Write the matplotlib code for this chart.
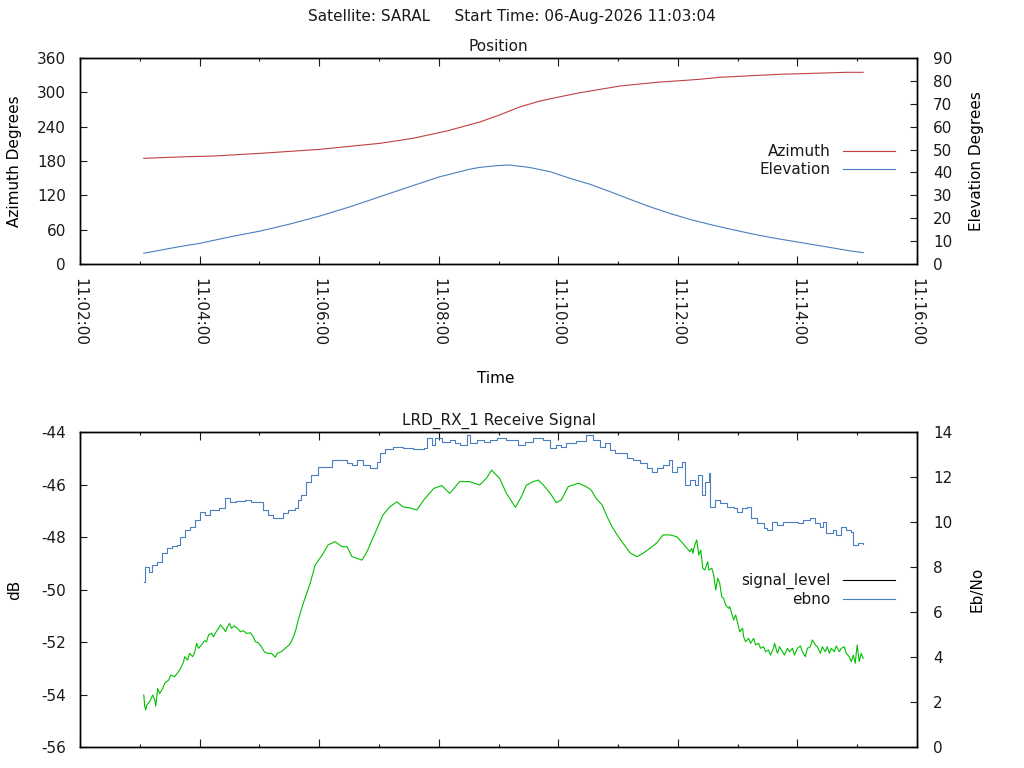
import matplotlib.pyplot as plt
from matplotlib.lines import Line2D
from matplotlib.ticker import MultipleLocator, FuncFormatter

plt.rcParams['font.family'] = 'DejaVu Sans'
plt.rcParams['font.size'] = 11
plt.rcParams['axes.unicode_minus'] = False
plt.rcParams['text.color'] = '#1a1a1a'
plt.rcParams['xtick.color'] = '#1a1a1a'
plt.rcParams['ytick.color'] = '#1a1a1a'

# times are seconds after 11:02:00
az_t = [64, 107, 134, 181, 241, 301, 334, 368, 401, 421, 442, 462, 482, 502, 522,
        542, 562, 582, 602, 622, 642, 669, 702, 736, 769, 786]
azimuth = [184.7, 187.5, 188.7, 193.4, 200.4, 210.9, 219.6, 232.4, 248.0, 260.4, 274.9,
           284.9, 292.4, 299.4, 305.2, 311.1, 314.6, 318.0, 320.3, 322.8, 326.3, 328.6,
           331.5, 333.2, 335.0, 335.0]

el_t = [64, 100, 120, 151, 181, 211, 241, 271, 301, 331, 361, 391, 401, 419, 431, 451,
        472, 492, 512, 532, 552, 572, 592, 612, 632, 652, 672, 692, 712, 732, 752, 772,
        786]
elevation = [4.7, 7.6, 9.0, 11.9, 14.4, 17.5, 21.0, 25.0, 29.4, 33.8, 38.1, 41.4, 42.2,
             43.0, 43.25, 42.2, 40.3, 37.4, 34.8, 31.6, 28.25, 25.0, 22.1, 19.5, 17.3,
             15.3, 13.4, 11.66, 10.2, 8.74, 7.28, 5.8, 4.94]

sig_t = [64, 65, 66, 67, 70, 73, 75, 76, 78, 80, 83, 85, 89, 91, 95, 98, 101, 104, 105,
         108, 110, 113, 115, 117, 119, 122, 125, 127, 129, 132, 134, 136, 139, 141, 144,
         146, 148, 150, 152, 155, 158, 161, 164, 167, 171, 174, 176, 179, 182, 185, 188,
         192, 196, 198, 202, 206, 210, 212, 215, 217, 219, 221, 224, 231, 236, 243, 249,
         256, 263, 268, 273, 283, 288, 296, 304, 311, 318, 324, 331, 338, 345, 355, 363,
         371, 381, 391, 401, 408, 413, 421, 428, 437, 443, 448, 455, 460, 465, 472, 478,
         483, 490, 500, 508, 513, 518, 524, 529, 534, 539, 545, 552, 559, 565, 572, 579,
         585, 592, 599, 605, 612, 614, 615, 617, 619, 621, 623, 625, 627, 630, 631, 634,
         636, 638, 640, 642, 644, 646, 648, 651, 652, 654, 656, 658, 661, 662, 665, 666,
         668, 671, 673, 676, 678, 681, 683, 686, 688, 691, 693, 696, 697, 700, 702, 705,
         707, 710, 712, 715, 717, 720, 723, 725, 728, 730, 733, 735, 738, 740, 743, 745,
         748, 750, 752, 754, 757, 759, 762, 764, 767, 769, 772, 774, 776, 778, 779, 780,
         782, 784, 786]
signal_level = [-54.02, -54.46, -54.59, -54.40, -54.27, -54.02, -54.21, -54.44, -53.77,
                -53.96, -53.77, -53.57, -53.45, -53.26, -53.32, -53.17, -53.00, -52.75,
                -52.56, -52.69, -52.43, -52.56, -52.41, -52.05, -52.24, -52.11, -51.95,
                -51.99, -51.73, -51.67, -51.80, -51.65, -51.48, -51.35, -51.48, -51.61,
                -51.42, -51.29, -51.48, -51.39, -51.48, -51.61, -51.57, -51.67, -51.65,
                -51.80, -51.99, -52.03, -52.18, -52.37, -52.43, -52.43, -52.58, -52.43,
                -52.37, -52.24, -52.11, -51.99, -51.73, -51.48, -51.16, -50.91, -50.53,
                -49.76, -49.07, -48.69, -48.30, -48.18, -48.37, -48.37, -48.75, -48.88,
                -48.56, -47.86, -47.16, -46.85, -46.66, -46.85, -46.89, -46.97, -46.59,
                -46.15, -46.04, -46.34, -45.89, -45.89, -46.02, -45.76, -45.45, -45.76,
                -46.34, -46.87, -46.46, -46.02, -45.89, -45.83, -46.02, -46.34, -46.69,
                -46.59, -46.08, -45.95, -46.08, -46.21, -46.53, -46.78, -47.23, -47.61,
                -47.92, -48.24, -48.60, -48.75, -48.62, -48.43, -48.22, -47.92, -47.92,
                -47.99, -48.24, -48.56, -48.43, -48.62, -48.30, -48.11, -48.69, -48.50,
                -49.19, -49.26, -48.94, -49.26, -49.19, -49.45, -50.02, -49.57, -49.76,
                -50.27, -50.34, -50.59, -50.72, -50.65, -50.91, -51.16, -50.97, -51.42,
                -51.61, -51.48, -51.80, -51.99, -51.86, -52.05, -51.86, -52.11, -52.05,
                -52.24, -52.18, -52.37, -52.30, -52.50, -52.24, -52.05, -52.43, -52.18,
                -52.37, -52.50, -52.24, -52.37, -52.24, -52.50, -52.24, -52.15, -52.37,
                -52.56, -52.24, -52.18, -51.92, -52.11, -52.18, -52.43, -52.18, -52.37,
                -52.18, -52.43, -52.24, -52.37, -52.15, -52.37, -52.24, -52.18, -52.43,
                -52.56, -52.75, -52.50, -52.81, -52.43, -52.11, -52.75, -52.43, -52.62]

ebno_t = [64, 65, 69, 72, 77, 82, 87, 92, 97, 100, 105, 110, 115, 120, 125, 130, 139,
          146, 151, 157, 166, 172, 181, 184, 189, 194, 201, 204, 209, 216, 219, 222, 227,
          232, 239, 246, 253, 261, 268, 273, 278, 284, 291, 298, 301, 306, 314, 324, 334,
          345, 348, 353, 356, 363, 371, 376, 381, 388, 391, 398, 405, 411, 418, 428, 440,
          447, 455, 465, 472, 478, 483, 488, 498, 508, 515, 522, 527, 532, 537, 545, 549,
          555, 562, 569, 574, 579, 585, 591, 594, 599, 604, 607, 612, 617, 620, 624, 627,
          631, 632, 637, 642, 649, 656, 659, 664, 669, 673, 679, 686, 689, 694, 699, 706,
          716, 721, 726, 733, 738, 743, 746, 749, 756, 759, 764, 769, 774, 776, 781, 786]
ebno = [7.35, 8.01, 7.79, 8.09, 8.24, 8.61, 8.83, 8.93, 8.98, 9.35, 9.64, 9.79, 10.09,
        10.46, 10.31, 10.53, 10.61, 11.08, 10.90, 10.95, 10.98, 10.90, 10.90, 10.53, 10.31,
        10.16, 10.16, 10.39, 10.53, 10.61, 10.98, 11.20, 11.79, 12.09, 12.46, 12.46, 12.76,
        12.76, 12.61, 12.53, 12.76, 12.53, 12.39, 12.68, 13.05, 13.23, 13.35, 13.27, 13.23,
        13.27, 13.72, 13.42, 13.72, 13.57, 13.64, 13.50, 13.42, 13.87, 13.50, 13.64, 13.57,
        13.64, 13.72, 13.64, 13.42, 13.57, 13.72, 13.64, 13.27, 13.42, 13.35, 13.50, 13.61,
        13.87, 13.64, 13.35, 13.50, 13.20, 13.05, 13.05, 12.83, 12.76, 12.61, 12.39, 12.24,
        12.39, 12.53, 12.76, 12.24, 12.46, 12.68, 11.64, 11.86, 11.64, 12.09, 11.20, 11.79,
        12.16, 10.68, 10.98, 10.83, 10.68, 10.61, 10.46, 10.61, 10.68, 10.16, 9.94, 9.72,
        9.64, 10.01, 9.87, 10.01, 10.01, 9.94, 10.09, 10.16, 9.94, 9.79, 10.01, 9.50, 9.64,
        9.42, 9.79, 9.64, 9.57, 8.98, 9.05, 9.02]

RED = '#c04040'
BLUE = '#4a7fbf'
GREEN = '#00c000'
LW = 0.8


def hms(s, pos=None):
    s = int(round(s)) + 11 * 3600 + 2 * 60
    return '%02d:%02d:%02d' % (s // 3600, s // 60 % 60, s % 60)


def style_x(ax, labels=True):
    ax.set_xlim(0, 840)
    ax.xaxis.set_major_locator(MultipleLocator(120))
    ax.xaxis.set_minor_locator(MultipleLocator(60))
    ax.xaxis.set_major_formatter(FuncFormatter(hms))
    ax.tick_params(axis='x', which='both', direction='in', top=True, bottom=True,
                   labelbottom=labels, labelrotation=-90, pad=10)
    ax.tick_params(axis='x', which='major', length=5.5, width=0.8)
    ax.tick_params(axis='x', which='minor', length=2.5, width=0.8)


def style_y(ax, side):
    if side == 'left':
        ax.tick_params(axis='y', direction='in', left=True, right=False, length=5,
                       width=0.8, pad=10)
    else:
        ax.tick_params(axis='y', direction='in', left=False, right=True, length=5,
                       width=0.8, pad=11.5)
    for sp in ax.spines.values():
        sp.set_linewidth(1.0)


fig = plt.figure(figsize=(10.24, 7.68), dpi=100)
fig.text(0.5, 1 - 17 / 768, 'Satellite: SARAL     Start Time: 06-Aug-2026 11:03:04',
         ha='center', va='center')

# Position plot
ax1 = fig.add_axes([80 / 1024, 1 - 264 / 768, 837 / 1024, 206 / 768])
ax2 = ax1.twinx()
l_az, = ax1.plot(az_t, azimuth, color=RED, lw=LW, label='Azimuth')
l_el, = ax2.plot(el_t, elevation, color=BLUE, lw=LW, label='Elevation')
ax1.set_ylim(0, 360)
ax1.yaxis.set_major_locator(MultipleLocator(60))
ax2.set_ylim(0, 90)
ax2.yaxis.set_major_locator(MultipleLocator(10))
style_x(ax1)
style_y(ax1, 'left')
style_y(ax2, 'right')
ax1.set_title('Position', pad=5, fontsize=11)
ax1.set_xlabel('Time')
ax1.xaxis.set_label_coords(0.497, (264 - 371) / 206)
ax1.set_ylabel('Azimuth Degrees')
ax1.yaxis.set_label_coords((22 - 80) / 837, 0.5)
ax2.set_ylabel('Elevation Degrees')
ax2.yaxis.set_label_coords((969 - 80) / 837, 0.5)
ax2.legend(handles=[l_az, l_el], loc='center right', bbox_to_anchor=(0.974, 0.502),
           frameon=False, markerfirst=False, handlelength=3.4, handletextpad=0.85,
           borderpad=0, borderaxespad=0, labelspacing=0.2)

# Receive signal plot
ax3 = fig.add_axes([80 / 1024, 1 - 747 / 768, 837 / 1024, 315 / 768])
ax4 = ax3.twinx()
ax3.plot(sig_t, signal_level, color=GREEN, lw=LW)
l_eb, = ax4.step(ebno_t, ebno, where='post', color=BLUE, lw=LW, label='ebno')
ax3.set_ylim(-56, -44)
ax3.yaxis.set_major_locator(MultipleLocator(2))
ax4.set_ylim(0, 14)
ax4.yaxis.set_major_locator(MultipleLocator(2))
style_x(ax3, labels=False)
style_y(ax3, 'left')
style_y(ax4, 'right')
ax3.set_title('LRD_RX_1 Receive Signal', pad=5, fontsize=11)
ax3.set_ylabel('dB')
ax3.yaxis.set_label_coords((22 - 80) / 837, 0.5)
ax4.set_ylabel('Eb/No')
ax4.yaxis.set_label_coords((969 - 80) / 837, 0.5)
sig_handle = Line2D([0], [0], color='black', lw=LW, label='signal_level')
ax4.legend(handles=[sig_handle, l_eb], loc='center right', bbox_to_anchor=(0.974, 0.498),
           frameon=False, markerfirst=False, handlelength=3.4, handletextpad=0.85,
           borderpad=0, borderaxespad=0, labelspacing=0.2)

fig.savefig('out.png', dpi=100)
